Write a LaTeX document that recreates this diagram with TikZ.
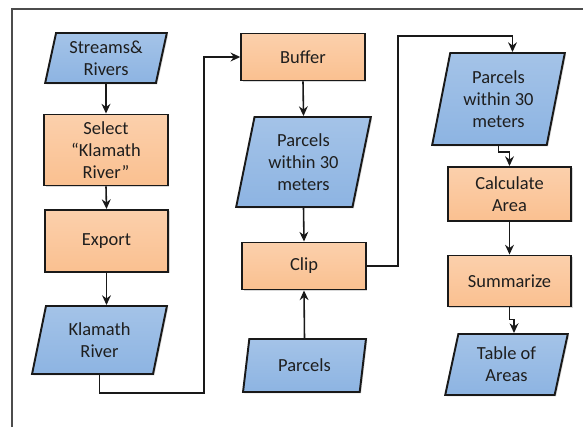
\documentclass[tikz,border=0pt]{standalone}
\usepackage{fontspec}
\setmainfont{Carlito}
\usepackage{xcolor}
\usepackage{tikz}
\usetikzlibrary{arrows.meta, shapes.geometric, shadows, calc}
\definecolor{procfill}{RGB}{250,192,144}
\definecolor{datafill}{RGB}{141,180,226}
\definecolor{ink}{RGB}{30,30,30}

\begin{document}
\begin{tikzpicture}[
		box/.style={draw=black!90, line width=1.1pt, text=ink, align=center,
			font=\fontsize{10.5}{12.5}\selectfont,
			drop shadow={opacity=0.3, shadow xshift=0.8pt, shadow yshift=-0.8pt}},
		proc/.style={box, rectangle, top color=procfill!75, bottom color=procfill, minimum width=2.47cm},
		data/.style={box, trapezium, trapezium left angle=77, trapezium right angle=103,
			trapezium stretches=true, inner sep=0pt, top color=datafill!80, bottom color=datafill},
		arr/.style={draw=black!90, line width=0.9pt, -{Stealth[length=5.5pt,width=5pt]}}]
				\fill[white] (0,0) rectangle (11.66,8.54);
				\useasboundingbox (0,0) rectangle (11.66,8.54);
				\draw[line width=1pt, draw=black!70] (0.24,0) -- (0.24,8.36) -- (11.66,8.36);
				% first column
				\node[data, minimum width=2.44cm, minimum height=1.0cm] (streams) at (2.12,7.38) {Streams\&\\Rivers};
				\node[proc, minimum height=1.42cm] (select) at (2.12,5.54) {Select\\``Klamath\\River''};
				\node[proc, minimum height=1.24cm] (export) at (2.13,3.72) {Export};
				\node[data, minimum width=2.7cm, minimum height=1.36cm] (klamath) at (1.99,1.74) {Klamath\\River};
				% second column
				\node[proc, minimum height=0.94cm] (buffer) at (6.06,7.40) {Buffer};
				\node[data, minimum width=2.7cm, minimum height=1.8cm] (within1) at (6.07,5.30) {Parcels\\within 30\\meters};
				\node[proc, minimum height=0.94cm] (clip) at (6.08,3.22) {Clip};
				\node[data, minimum width=2.46cm, minimum height=1.06cm] (parcels) at (6.09,1.23) {Parcels};
				% third column
				\node[data, minimum width=2.66cm, minimum height=1.84cm] (within2) at (9.97,6.56) {Parcels\\within 30\\meters};
				\node[proc, minimum height=1.08cm] (calc) at (10.19,4.66) {Calculate\\Area};
				\node[proc, minimum height=1.02cm] (summ) at (10.19,2.92) {Summarize};
				\node[data, minimum width=2.46cm, minimum height=1.22cm] (table) at (10.13,1.25) {Table of\\Areas};
				\coordinate (j1) at (4.08,0.68);
				\coordinate (j2) at (7.96,7.82);
				\draw[arr] (streams.south) -- (select.north);
				\draw[arr] (select.south) -- (export.north);
				\draw[arr] (export.south) -- (export.south |- klamath.north);
				\draw[arr] (klamath.south) |- (j1) |- (buffer.west);
				\draw[arr] (buffer.south) -- (within1.north);
				\draw[arr] (within1.south) -- (clip.north);
				\draw[arr] (parcels.north) -- (clip.south);
				\draw[arr] (clip.east) -| (j2) -| ([xshift=0.28cm]within2.north);
				\draw[arr] (within2.south) -- ++(0,-0.12) -| (calc.north);
				\draw[arr] (calc.south) -- (summ.north);
				\draw[arr] (summ.south) -- ++(0,-0.24) -| ([xshift=0.15cm]table.north);
			\end{tikzpicture}
\end{document}
